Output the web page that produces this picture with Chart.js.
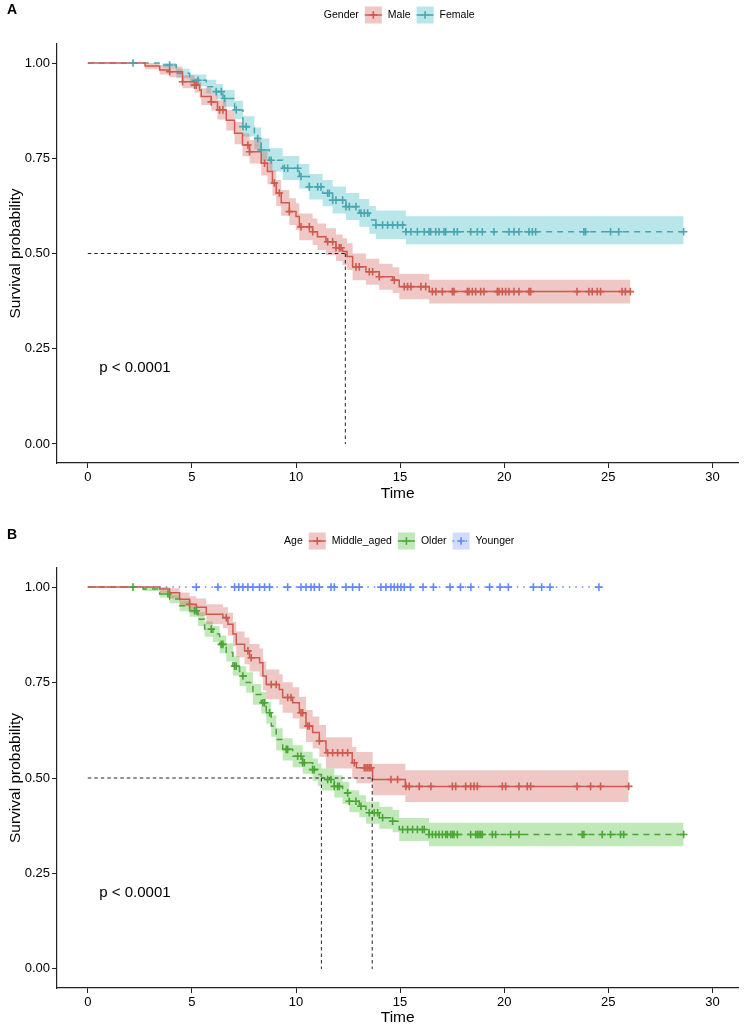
<!DOCTYPE html>
<html>
<head>
<meta charset="utf-8">
<script src="https://cdn.jsdelivr.net/npm/chart.js@4.4.0/dist/chart.umd.min.js"></script>
<style>
  html, body { margin: 0; padding: 0; background: #fff; }
  #wrap { position: relative; width: 744px; height: 1025px; }
  canvas { position: absolute; left: 0; }
  #chartA { top: 0; }
  #chartB { top: 512px; }
</style>
</head>
<body>
<div id="wrap">
  <canvas id="chartA" width="744" height="512" style="width:744px;height:512px"></canvas>
  <canvas id="chartB" width="744" height="513" style="width:744px;height:513px"></canvas>
</div>
<script>
// axis ticks
const xTicks = [0, 5, 10, 15, 20, 25, 30];
const yTicks = [0, 0.25, 0.5, 0.75, 1];
const pValueText = 'p < 0.0001';

// ---- panel A : Gender ----
const maleTime  = [0, 2.75, 3.45, 3.93, 4.55, 5.13, 5.37, 5.45, 5.93, 6.23, 6.65, 7.05, 7.43, 7.77, 8.33, 8.63, 8.87, 9.05, 9.29, 9.68, 10.0, 10.16, 10.8, 11.03, 11.44, 11.92, 12.24, 12.45, 12.72, 13.36, 14.0, 14.64, 14.96, 16.4, 26.06];
const maleSurv  = [1.0, 0.992, 0.982, 0.977, 0.951, 0.942, 0.929, 0.912, 0.898, 0.877, 0.850, 0.816, 0.785, 0.767, 0.737, 0.715, 0.685, 0.659, 0.633, 0.610, 0.597, 0.570, 0.557, 0.544, 0.531, 0.515, 0.505, 0.492, 0.465, 0.452, 0.439, 0.430, 0.413, 0.400, 0.400];
const maleUpper = [1.0, 1.0, 0.994, 0.991, 0.968, 0.961, 0.950, 0.934, 0.921, 0.902, 0.877, 0.845, 0.815, 0.798, 0.769, 0.748, 0.718, 0.693, 0.667, 0.645, 0.632, 0.605, 0.592, 0.579, 0.566, 0.550, 0.540, 0.527, 0.500, 0.486, 0.473, 0.464, 0.446, 0.431, 0.431];
const maleLower = [1.0, 0.984, 0.970, 0.963, 0.934, 0.923, 0.908, 0.890, 0.875, 0.852, 0.823, 0.787, 0.755, 0.736, 0.705, 0.682, 0.652, 0.625, 0.599, 0.575, 0.562, 0.535, 0.522, 0.509, 0.496, 0.480, 0.470, 0.457, 0.430, 0.418, 0.405, 0.396, 0.380, 0.369, 0.369];
const maleCensor = [3.93, 4.55, 5.13, 5.21, 5.93, 6.33, 6.49, 7.69, 7.77, 8.49, 8.96, 9.2, 9.68, 10.24, 10.64, 10.8, 11.52, 11.76, 11.92, 12.08, 12.16, 12.88, 13.04, 13.52, 13.68, 14.0, 14.72, 15.2, 15.36, 15.52, 16.0, 16.23, 16.55, 16.72, 17.03, 17.51, 17.59, 18.23, 18.31, 18.47, 18.63, 18.87, 19.03, 19.67, 19.75, 19.91, 20.07, 20.23, 20.47, 20.71, 21.19, 21.27, 23.5, 24.07, 24.23, 24.47, 24.63, 25.66, 25.82, 26.06];

const femaleTime  = [0, 3.6, 4.25, 4.89, 5.69, 6.17, 6.49, 7.05, 7.45, 8.0, 8.33, 8.72, 9.36, 10.16, 10.64, 11.28, 11.76, 12.4, 13.04, 13.52, 13.84, 15.28, 28.62];
const femaleSurv  = [1.0, 0.995, 0.973, 0.955, 0.938, 0.925, 0.907, 0.877, 0.833, 0.802, 0.772, 0.745, 0.724, 0.702, 0.675, 0.658, 0.640, 0.623, 0.606, 0.588, 0.575, 0.557, 0.557];
const femaleUpper = [1.0, 1.0, 0.985, 0.970, 0.956, 0.945, 0.929, 0.901, 0.860, 0.831, 0.802, 0.776, 0.756, 0.735, 0.709, 0.693, 0.676, 0.659, 0.643, 0.625, 0.613, 0.598, 0.598];
const femaleLower = [1.0, 0.988, 0.960, 0.939, 0.920, 0.905, 0.885, 0.853, 0.807, 0.774, 0.743, 0.715, 0.693, 0.670, 0.642, 0.624, 0.605, 0.588, 0.570, 0.552, 0.538, 0.524, 0.524];
const femaleCensor = [2.17, 3.93, 5.29, 6.17, 6.41, 6.57, 7.13, 7.45, 7.61, 8.16, 8.33, 8.81, 9.44, 9.6, 10.08, 10.24, 10.64, 11.04, 11.2, 11.52, 11.6, 11.76, 11.92, 12.24, 12.4, 12.56, 12.88, 13.12, 13.28, 13.44, 13.84, 14.16, 14.4, 14.64, 14.88, 15.12, 15.28, 15.52, 15.83, 16.16, 16.39, 16.47, 16.71, 16.87, 17.11, 17.19, 17.59, 17.75, 18.39, 18.71, 18.95, 19.51, 20.23, 20.47, 20.71, 21.19, 21.35, 21.51, 23.83, 23.91, 25.11, 25.5, 28.62];
const medianA = [12.37];

// ---- panel B : Age ----
const middleTime  = [0, 3.45, 3.93, 4.41, 4.89, 5.21, 5.69, 6.49, 6.73, 6.97, 7.13, 7.53, 7.77, 8.25, 8.41, 8.57, 9.2, 9.36, 9.84, 10.16, 10.48, 10.8, 11.12, 11.44, 12.7, 12.9, 13.68, 15.25, 25.98];
const middleSurv  = [1.0, 0.995, 0.985, 0.968, 0.955, 0.947, 0.929, 0.920, 0.903, 0.877, 0.850, 0.833, 0.815, 0.802, 0.767, 0.745, 0.732, 0.711, 0.697, 0.671, 0.636, 0.619, 0.597, 0.566, 0.540, 0.527, 0.496, 0.478, 0.478];
const middleUpper = [1.0, 1.0, 0.997, 0.986, 0.976, 0.970, 0.955, 0.947, 0.933, 0.909, 0.884, 0.868, 0.851, 0.839, 0.805, 0.784, 0.772, 0.751, 0.738, 0.713, 0.678, 0.661, 0.639, 0.607, 0.581, 0.568, 0.537, 0.520, 0.520];
const middleLower = [1.0, 0.985, 0.970, 0.950, 0.933, 0.924, 0.903, 0.893, 0.873, 0.845, 0.816, 0.798, 0.779, 0.765, 0.729, 0.706, 0.692, 0.671, 0.656, 0.629, 0.594, 0.577, 0.555, 0.525, 0.499, 0.486, 0.455, 0.437, 0.437];
const middleCensor = [4.89, 6.65, 7.69, 7.85, 8.81, 9.05, 9.6, 9.76, 10.24, 10.32, 10.56, 10.64, 11.12, 11.52, 11.76, 12.0, 12.24, 12.48, 12.8, 13.28, 13.36, 13.44, 13.52, 13.6, 14.56, 14.88, 15.28, 15.44, 15.92, 16.48, 17.51, 17.67, 18.15, 18.39, 18.55, 18.71, 19.91, 20.07, 20.71, 21.11, 21.27, 23.5, 24.15, 24.63, 25.98];

const olderTime  = [0, 2.65, 3.45, 3.93, 4.41, 4.89, 5.29, 5.61, 6.01, 6.33, 6.65, 6.97, 7.29, 7.61, 7.93, 8.33, 8.57, 8.81, 9.05, 9.36, 9.84, 10.32, 10.8, 11.05, 11.22, 11.84, 12.24, 12.56, 13.04, 13.36, 14.0, 14.64, 14.96, 16.39, 28.62];
const olderSurv  = [1.0, 0.995, 0.982, 0.969, 0.951, 0.938, 0.916, 0.890, 0.877, 0.850, 0.829, 0.793, 0.767, 0.750, 0.719, 0.697, 0.671, 0.636, 0.601, 0.575, 0.557, 0.540, 0.522, 0.509, 0.496, 0.478, 0.461, 0.439, 0.426, 0.409, 0.396, 0.387, 0.365, 0.352, 0.352];
const olderUpper = [1.0, 1.0, 0.991, 0.980, 0.965, 0.954, 0.934, 0.910, 0.898, 0.873, 0.853, 0.818, 0.793, 0.777, 0.746, 0.725, 0.699, 0.664, 0.630, 0.604, 0.586, 0.569, 0.551, 0.538, 0.525, 0.507, 0.490, 0.468, 0.455, 0.438, 0.425, 0.416, 0.395, 0.383, 0.383];
const olderLower = [1.0, 0.990, 0.973, 0.958, 0.937, 0.922, 0.898, 0.870, 0.856, 0.827, 0.805, 0.768, 0.741, 0.723, 0.692, 0.669, 0.643, 0.608, 0.572, 0.546, 0.528, 0.511, 0.493, 0.480, 0.467, 0.449, 0.432, 0.410, 0.397, 0.380, 0.367, 0.358, 0.335, 0.321, 0.321];
const olderCensor = [2.17, 3.85, 5.13, 5.21, 5.93, 6.41, 6.49, 7.05, 7.13, 7.45, 8.41, 8.49, 8.73, 9.53, 9.6, 10.08, 10.24, 10.32, 10.4, 10.8, 10.88, 11.52, 11.68, 11.84, 12.0, 12.08, 12.48, 12.56, 12.88, 13.12, 13.52, 13.76, 13.92, 14.16, 14.64, 15.12, 15.36, 15.6, 15.83, 16.07, 16.16, 16.39, 16.55, 16.71, 16.87, 17.03, 17.19, 17.27, 17.43, 17.51, 17.59, 17.75, 18.39, 18.63, 18.71, 18.79, 18.87, 18.95, 19.43, 19.59, 20.31, 20.71, 23.75, 23.83, 24.71, 25.11, 25.59, 25.74, 28.62];

const youngerTime  = [0, 24.55];
const youngerSurv  = [1.0, 1.0];
const youngerUpper = [1.0, 1.0];
const youngerLower = [1.0, 1.0];
const youngerCensor = [5.21, 6.25, 7.05, 7.25, 7.45, 7.69, 7.93, 8.25, 8.49, 8.73, 9.6, 10.24, 10.48, 10.72, 10.88, 11.12, 11.68, 11.84, 12.4, 12.72, 13.04, 14.08, 14.32, 14.56, 14.72, 14.88, 15.04, 15.2, 15.5, 16.1, 16.6, 17.4, 17.9, 18.4, 19.3, 19.8, 20.2, 21.4, 21.8, 22.2, 24.55];
const medianB = [11.22, 13.66];

const FONT = '"Liberation Sans", Arial, sans-serif';
const RED = 'rgb(206,90,78)', RED_BAND = 'rgba(205,80,70,0.32)';
const TEAL = 'rgb(72,166,176)', TEAL_BAND = 'rgba(60,185,195,0.36)';
const GREEN = 'rgb(74,166,50)', GREEN_BAND = 'rgba(80,190,60,0.36)';
const BLUE = 'rgb(100,135,250)', BLUE_BAND = 'rgba(100,135,250,0.3)';

function survAt(times, surv, t) {
  let s = surv[0];
  for (let i = 0; i < times.length; i++) {
    if (times[i] <= t) s = surv[i];
  }
  return s;
}
function pts(xs, ys) {
  return xs.map((x, i) => ({x: x, y: ys[i]}));
}

function groupSets(g) {
  return [
    {data: pts(g.time, g.upper), stepped: true, borderWidth: 0, borderColor: 'transparent', backgroundColor: 'transparent', pointRadius: 0, fill: false, order: 10},
    {data: pts(g.time, g.lower), stepped: true, borderWidth: 0, borderColor: 'transparent', backgroundColor: g.band, pointRadius: 0, fill: '-1', order: 10},
    {label: g.name, data: pts(g.time, g.surv), stepped: true, borderColor: g.color, borderWidth: 1.5, borderDash: g.dash, pointRadius: 0, fill: false, order: 5},
    {data: g.censor.map(t => ({x: t, y: survAt(g.time, g.surv, t)})), showLine: false, pointStyle: 'cross', pointRadius: 3.8, pointBorderWidth: 1.6, borderColor: g.color, backgroundColor: g.color, order: 1}
  ];
}

function medianSets(medians) {
  const sets = [{data: [{x: 0, y: 0.5}, {x: Math.max(...medians), y: 0.5}]}];
  medians.forEach(m => sets.push({data: [{x: m, y: 0.5}, {x: m, y: 0}]}));
  return sets.map(s => Object.assign(s, {borderColor: '#222', borderWidth: 1, borderDash: [3.5, 3], pointRadius: 0, fill: false, order: 3}));
}

const annotate = {
  id: 'annotate',
  afterDraw(chart, args, opts) {
    const ctx = chart.ctx;
    const xs = chart.scales.x, ys = chart.scales.y;
    ctx.save();
    ctx.fillStyle = '#000';
    ctx.textBaseline = 'middle';
    ctx.textAlign = 'left';
    ctx.font = 'bold 14px ' + FONT;
    ctx.fillText(opts.tag, 7, opts.tagY);
    ctx.font = '15px ' + FONT;
    ctx.fillText(pValueText, xs.getPixelForValue(0.55), ys.getPixelForValue(0.2));

    // legend
    ctx.font = '10.5px ' + FONT;
    const box = 17, gap = 6;
    let total = ctx.measureText(opts.legendTitle).width;
    opts.groups.forEach(g => { total += gap + box + gap + ctx.measureText(g.name).width; });
    let x = (chart.chartArea.left + chart.chartArea.right) / 2 + 1.5 - total / 2;
    const cy = opts.legendY;
    ctx.fillText(opts.legendTitle, x, cy);
    x += ctx.measureText(opts.legendTitle).width + gap;
    opts.groups.forEach(g => {
      ctx.fillStyle = g.band;
      ctx.fillRect(x, cy - box / 2, box, box);
      ctx.strokeStyle = g.color;
      ctx.lineWidth = 1.5;
      ctx.setLineDash(g.dash);
      ctx.beginPath();
      ctx.moveTo(x, cy);
      ctx.lineTo(x + box, cy);
      ctx.stroke();
      ctx.setLineDash([]);
      ctx.lineWidth = 1.6;
      ctx.beginPath();
      ctx.moveTo(x + box / 2 - 3.8, cy);
      ctx.lineTo(x + box / 2 + 3.8, cy);
      ctx.moveTo(x + box / 2, cy - 3.8);
      ctx.lineTo(x + box / 2, cy + 3.8);
      ctx.stroke();
      x += box + gap;
      ctx.fillStyle = '#000';
      ctx.fillText(g.name, x, cy);
      x += ctx.measureText(g.name).width + gap;
    });
    ctx.restore();
  }
};

function makeChart(canvasId, groups, medians, cfg) {
  let datasets = [];
  groups.forEach(g => { datasets = datasets.concat(groupSets(g)); });
  datasets = datasets.concat(medianSets(medians));
  const axisColor = '#222';
  return new Chart(document.getElementById(canvasId), {
    type: 'line',
    data: {datasets: datasets},
    plugins: [annotate],
    options: {
      responsive: false,
      animation: false,
      layout: {padding: {top: cfg.top, right: 4, left: 0, bottom: 0}},
      elements: {line: {tension: 0}},
      plugins: {
        legend: {display: false},
        tooltip: {enabled: false},
        annotate: {tag: cfg.tag, tagY: cfg.tagY, legendTitle: cfg.legendTitle, legendY: cfg.legendY, groups: groups}
      },
      scales: {
        x: {
          type: 'linear',
          min: -1.48,
          max: 31.25,
          afterBuildTicks: s => { s.ticks = xTicks.map(v => ({value: v})); },
          afterFit: s => { s.height = cfg.xHeight; },
          grid: {drawOnChartArea: false, drawTicks: true, tickLength: 5, color: axisColor, lineWidth: 1},
          border: {display: true, color: axisColor, width: 1.2},
          ticks: {color: '#000', padding: 3, font: {family: FONT, size: 13, lineHeight: 1}, maxRotation: 0},
          title: {display: true, text: 'Time', color: '#000', font: {family: FONT, size: 15.5, lineHeight: 1}, padding: {top: 0, bottom: cfg.titleBottom}}
        },
        y: {
          type: 'linear',
          min: -0.05,
          max: 1.05,
          afterBuildTicks: s => { s.ticks = yTicks.map(v => ({value: v})); },
          afterFit: s => { s.width = 57; },
          grid: {drawOnChartArea: false, drawTicks: true, tickLength: 5, color: axisColor, lineWidth: 1},
          border: {display: true, color: axisColor, width: 1.2},
          ticks: {color: '#000', padding: 2, font: {family: FONT, size: 13, lineHeight: 1}, callback: v => Number(v).toFixed(2)},
          title: {display: true, text: 'Survival probability', color: '#000', font: {family: FONT, size: 15.5, lineHeight: 1}, padding: {top: 8, bottom: 0}}
        }
      }
    }
  });
}

makeChart('chartA', [
  {name: 'Male', time: maleTime, surv: maleSurv, upper: maleUpper, lower: maleLower, censor: maleCensor, color: RED, band: RED_BAND, dash: []},
  {name: 'Female', time: femaleTime, surv: femaleSurv, upper: femaleUpper, lower: femaleLower, censor: femaleCensor, color: TEAL, band: TEAL_BAND, dash: [6, 5]}
], medianA, {top: 44, xHeight: 49, titleBottom: 11, tag: 'A', tagY: 10, legendTitle: 'Gender', legendY: 15});

makeChart('chartB', [
  {name: 'Middle_aged', time: middleTime, surv: middleSurv, upper: middleUpper, lower: middleLower, censor: middleCensor, color: RED, band: RED_BAND, dash: []},
  {name: 'Older', time: olderTime, surv: olderSurv, upper: olderUpper, lower: olderLower, censor: olderCensor, color: GREEN, band: GREEN_BAND, dash: [6, 5]},
  {name: 'Younger', time: youngerTime, surv: youngerSurv, upper: youngerUpper, lower: youngerLower, censor: youngerCensor, color: BLUE, band: BLUE_BAND, dash: [1.5, 5]}
], medianB, {top: 56, xHeight: 37, titleBottom: 0, tag: 'B', tagY: 23, legendTitle: 'Age', legendY: 29});
</script>
</body>
</html>
